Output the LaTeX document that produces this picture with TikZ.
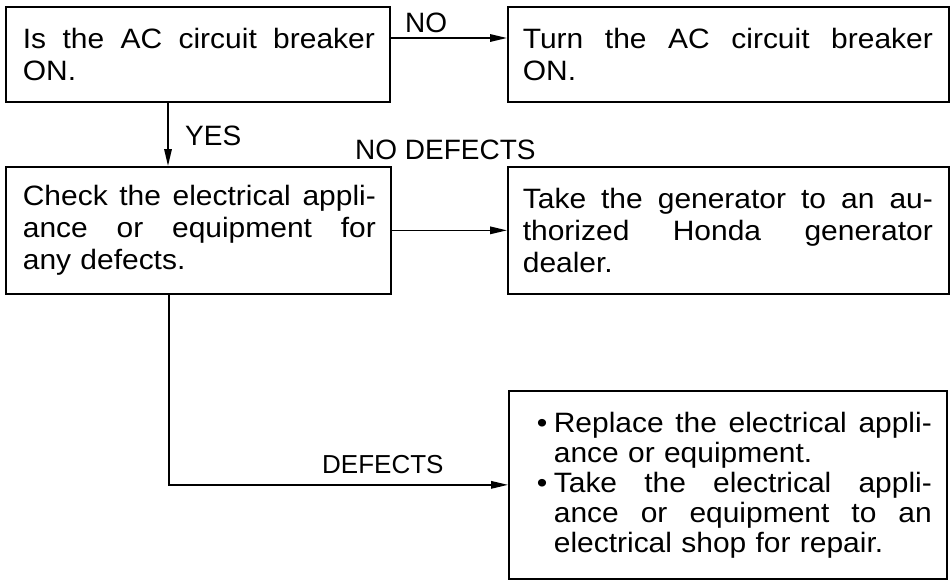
\documentclass[tikz,border=0pt]{standalone}
\usepackage{fontspec}
\setmainfont[FakeStretch=1.07]{Liberation Sans}
\newfontfamily\labfont{Liberation Sans}
\usetikzlibrary{arrows.meta,calc}
\newcommand\jline[2]{\hbox to #1{#2}}
\newcommand\sk{\ \hfill}
\begin{document}
\begin{tikzpicture}[x=1pt,y=-1pt,
  box/.style={draw, line width=1.7pt, rectangle, inner sep=0pt, align=left, anchor=north west, font=\fontsize{28}{32}\selectfont},
  lab/.style={font=\labfont\fontsize{28}{30}\selectfont, inner sep=0pt, anchor=base west},
  arr/.style={line width=1.6pt, -{Triangle[length=17pt,width=7.5pt]}},
  ln/.style={line width=1.6pt}]
\useasboundingbox (0,0) rectangle (951,581);
\node[box, minimum width=384pt, minimum height=95pt, text width=384pt] (b1) at (5,6)
 {\hspace*{17pt}\jline{352pt}{Is\sk the\sk AC\sk circuit\sk breaker}\\\hspace*{17pt}ON.};
\node[box, minimum width=441pt, minimum height=95pt, text width=441pt] (b2) at (507,6)
 {\hspace*{15pt}\jline{410pt}{Turn\sk the\sk AC\sk circuit\sk breaker}\\\hspace*{15pt}ON.};
\node[box, minimum width=385pt, minimum height=127pt, text width=385pt] (b3) at (5,166)
 {\hspace*{17pt}\jline{353pt}{Check\sk the\sk electrical\sk appli-}\\
  \hspace*{17pt}\jline{353pt}{ance\sk or\sk equipment\sk for}\\
  \hspace*{17pt}any defects.};
\node[box, minimum width=441pt, minimum height=127pt, text width=441pt] (b4) at (507,166)
 {\hspace*{15pt}\jline{410pt}{Take\sk the\sk generator\sk to\sk an\sk au-}\\
  \hspace*{15pt}\jline{410pt}{thorized\sk Honda\sk generator}\\
  \hspace*{15pt}dealer.};
\node[box, minimum width=438pt, minimum height=188pt, text width=438pt, font=\fontsize{28}{30}\selectfont] (b5) at (508,390)
 {\hspace*{28pt}\makebox[17pt][l]{\textbullet}\jline{378pt}{Replace\sk the\sk electrical\sk appli-}\\
  \hspace*{45pt}ance or equipment.\\
  \hspace*{28pt}\makebox[17pt][l]{\textbullet}\jline{378pt}{Take\sk the\sk electrical\sk appli-}\\
  \hspace*{45pt}\jline{378pt}{ance\sk or\sk equipment\sk to\sk an}\\
  \hspace*{45pt}electrical shop for repair.};
\node[lab] (lno) at (405,32) {NO};
\node[lab] (lyes) at (185,145) {YES};
\node[lab] (lnod) at (355,159) {NO DEFECTS};
\node[lab, font=\labfont\fontsize{26}{30}\selectfont] (ldef) at (322,473) {DEFECTS};
\draw[arr] ($(b1.north east)+(0,32)$) -- ($(b2.north west)+(0,32)$);
\draw[arr] ($(b1.south west)+(163,0)$) -- ($(b3.north west)+(163,0)$);
\draw[arr] (b3.east) -- (b4.west);
\draw[arr] ($(b3.south west)+(164,0)$) |- (b5.west);
\end{tikzpicture}
\end{document}
